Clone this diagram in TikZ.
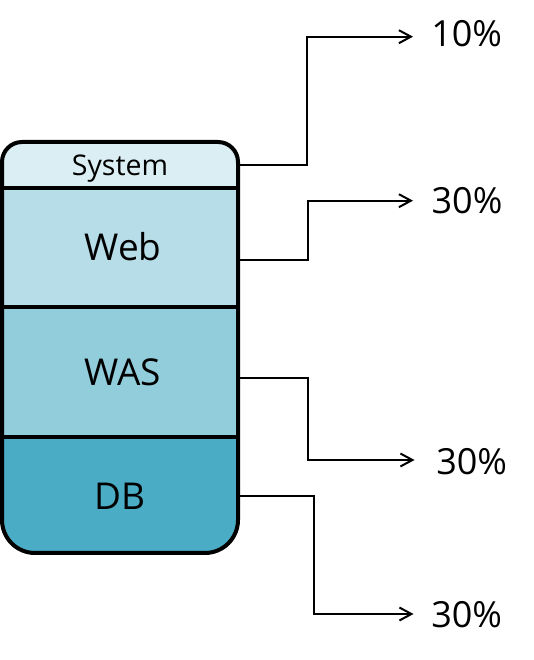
\documentclass[tikz,border=0pt]{standalone}
\usepackage{fontspec}
\setmainfont{Open Sans}
\usetikzlibrary{arrows.meta}
\definecolor{csys}{HTML}{DAEEF3}
\definecolor{cweb}{HTML}{B7DDE8}
\definecolor{cwas}{HTML}{92CDDC}
\definecolor{cdb}{HTML}{4BACC6}
\tikzset{
  conn/.style={line width=2pt, -{Straight Barb[length=12pt,width=13pt]}},
  bigtxt/.style={anchor=base, inner sep=0pt, font=\fontsize{37}{44}\selectfont},
  smalltxt/.style={anchor=base, inner sep=0pt, font=\fontsize{28.5}{34}\selectfont},
  pct/.style={anchor=base, inner sep=0pt, font=\fontsize{36}{44}\selectfont},
  divider/.style={line width=4pt},
}
\begin{document}
\begin{tikzpicture}[x=1pt,y=1pt]
\useasboundingbox (0,0) rectangle (533,660);
\def\bodypath{(2,400) -- (2,498) arc[start angle=180, end angle=90, radius=20] -- (218,518) arc[start angle=90, end angle=0, radius=20] -- (238,140) arc[start angle=0, end angle=-90, radius=33] -- (35,107) arc[start angle=-90, end angle=-180, radius=33] -- cycle}
\begin{scope}
  \clip \bodypath;
  \fill[csys] (0,472) rectangle (240,520);
  \fill[cweb] (0,353) rectangle (240,472);
  \fill[cwas] (0,223) rectangle (240,353);
  \fill[cdb] (0,100) rectangle (240,223);
\end{scope}
\draw[divider] (2,472) -- (238,472);
\draw[divider] (2,353) -- (238,353);
\draw[divider] (2,223) -- (238,223);
\draw[line width=4pt] \bodypath;
% labels in the stack
\node[smalltxt] (sys) at (120,484) {System};
\node[bigtxt] (web) at (123,399) {Web};
\node[bigtxt] (was) at (122.5,274) {WAS};
\node[bigtxt] (db) at (119.7,150) {DB};
% percentage labels
\node[pct] (p1) at (466.7,613.3) {10\%};
\node[pct] (p2) at (467,446) {30\%};
\node[pct] (p3) at (471.7,185) {30\%};
\node[pct] (p4) at (466.7,32) {30\%};
% connector ends
\coordinate (s1) at (238,495);
\coordinate (s2) at (238,399.5);
\coordinate (s3) at (238,282.3);
\coordinate (s4) at (238,164.3);
\coordinate (t1) at (413,623.3);
\coordinate (t2) at (413,459.3);
\coordinate (t3) at (414.5,200);
\coordinate (t4) at (413.5,46);
\draw[conn] (s1) -- (307.3,495) |- (t1);
\draw[conn] (s2) -- (307.5,399.5) |- (t2);
\draw[conn] (s3) -- (308.3,282.3) |- (t3);
\draw[conn] (s4) -- (314,164.3) |- (t4);
\end{tikzpicture}
\end{document}
